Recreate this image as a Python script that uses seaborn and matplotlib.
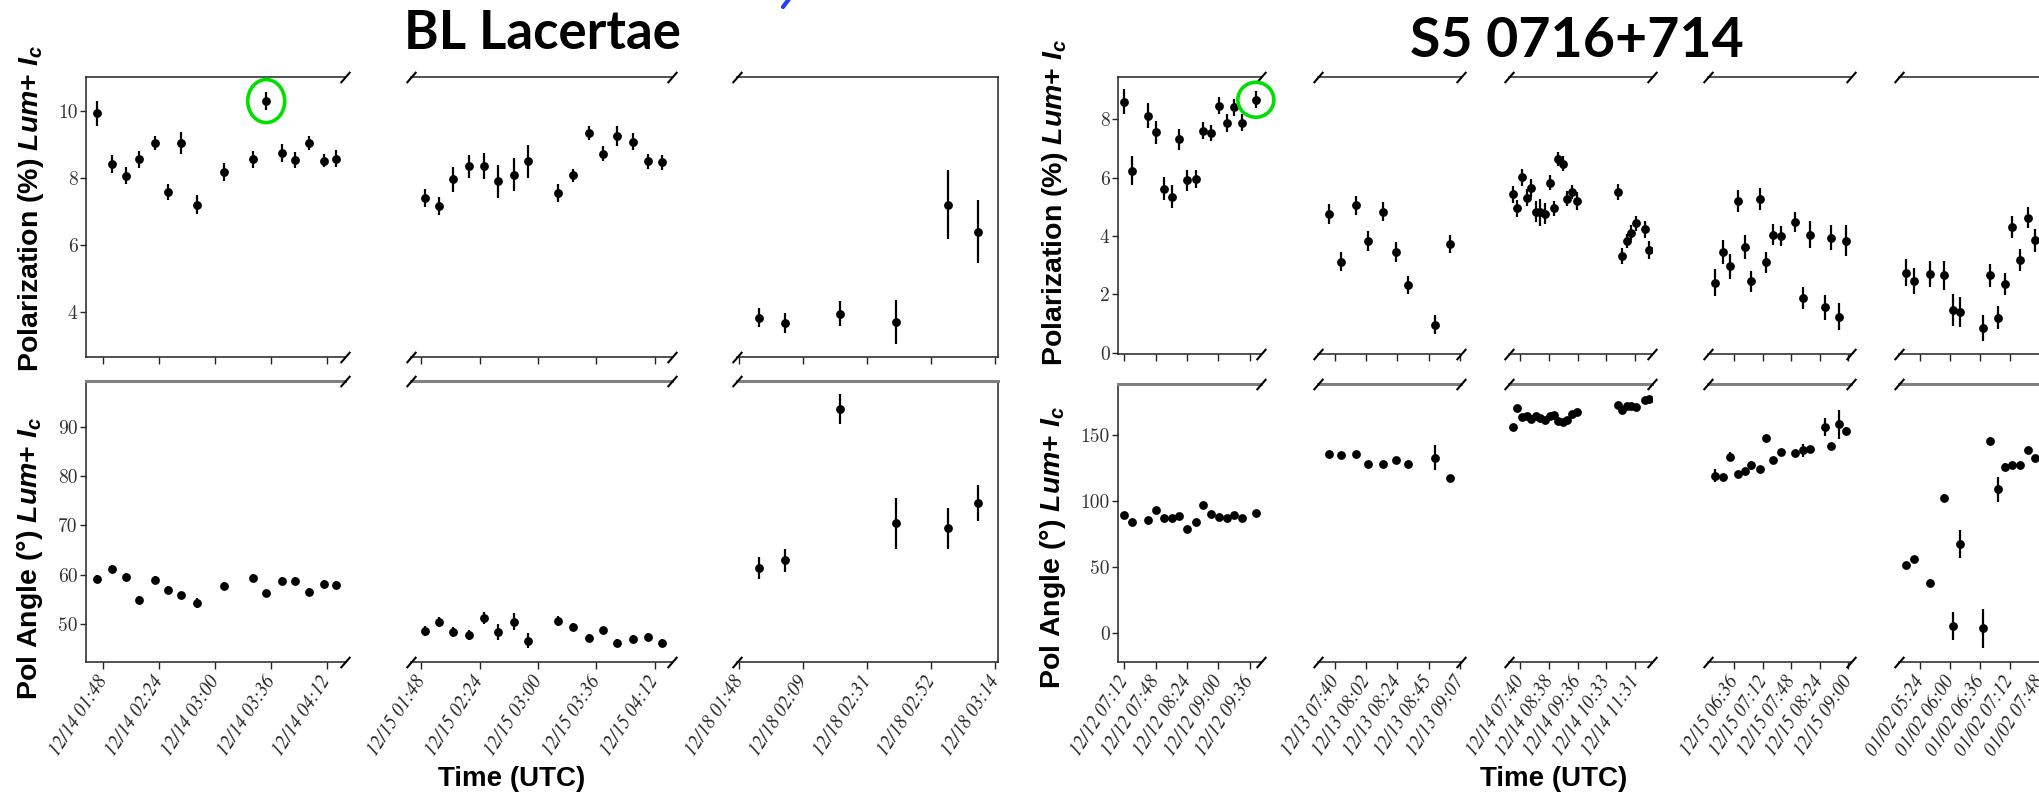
import numpy as np
import pandas as pd
import matplotlib
matplotlib.use("Agg")
import matplotlib.pyplot as plt
import matplotlib.dates as mdates
from matplotlib.font_manager import FontProperties
from matplotlib.patches import Ellipse
from matplotlib.transforms import ScaledTranslation
from matplotlib.lines import Line2D
import seaborn as sns

sns.set_theme(style="ticks")
plt.rcParams["font.family"] = ["Liberation Sans", "DejaVu Sans"]
plt.rcParams["mathtext.fontset"] = "custom"
plt.rcParams["mathtext.rm"] = "Liberation Sans:bold"
plt.rcParams["mathtext.it"] = "Liberation Sans:italic:bold"
plt.rcParams["mathtext.bf"] = "Liberation Sans:italic:bold"

# ------------------------------------------------------------------ data
# ---- BL Lacertae
bl_p1_date = "2019-12-14"
bl_p1_time = ["01:43:42", "01:53:48", "02:02:24", "02:11:12", "02:21:12", "02:29:42", "02:38:18", "02:48:30",
              "03:05:42", "03:24:24", "03:33:00", "03:43:06", "03:51:42", "04:00:18", "04:10:30", "04:17:42"]
bl_p1_pol = [9.93, 8.43, 8.07, 8.56, 9.05, 7.58, 9.05, 7.20, 8.17, 8.56, 10.30, 8.75, 8.54, 9.05, 8.52, 8.58]
bl_p1_pol_err = [0.37, 0.27, 0.25, 0.25, 0.22, 0.25, 0.32, 0.28, 0.27, 0.25, 0.28, 0.27, 0.25, 0.20, 0.20, 0.25]
bl_p1_ang = [59.1, 61.1, 59.5, 54.9, 59.0, 56.9, 55.8, 54.3, 57.8, 59.3, 56.2, 58.7, 58.7, 56.5, 58.2, 57.9]
bl_p1_ang_err = [0.8, 0.8, 0.8, 0.8, 0.8, 0.8, 0.8, 1.0, 0.8, 0.8, 0.8, 0.8, 0.8, 0.8, 0.8, 0.8]
bl_p1_ticks = ["01:48:00", "02:24:00", "03:00:00", "03:36:00", "04:12:00"]
bl_p1_xlim = ["01:36:48", "04:23:48"]

bl_p2_date = "2019-12-15"
bl_p2_time = ["01:50:24", "01:58:48", "02:07:36", "02:17:36", "02:26:24", "02:35:12", "02:45:18", "02:54:06",
              "03:12:30", "03:21:18", "03:31:42", "03:40:06", "03:48:54", "03:58:48", "04:07:42", "04:16:30"]
bl_p2_pol = [7.40, 7.16, 7.96, 8.35, 8.36, 7.90, 8.10, 8.50, 7.55, 8.08, 9.35, 8.73, 9.25, 9.09, 8.50, 8.47]
bl_p2_pol_err = [0.27, 0.27, 0.37, 0.35, 0.40, 0.50, 0.50, 0.50, 0.26, 0.20, 0.22, 0.22, 0.30, 0.25, 0.23, 0.22]
bl_p2_ang = [48.6, 50.5, 48.3, 47.8, 51.2, 48.4, 50.5, 46.6, 50.7, 49.5, 47.2, 48.8, 46.2, 46.9, 47.3, 46.2]
bl_p2_ang_err = [1.0, 1.0, 1.0, 1.0, 1.2, 1.6, 1.8, 1.5, 1.0, 0.8, 0.8, 0.7, 0.8, 0.8, 0.8, 0.8]
bl_p2_ticks = ["01:48:00", "02:24:00", "03:00:00", "03:36:00", "04:12:00"]
bl_p2_xlim = ["01:41:42", "04:22:36"]

bl_p3_date = "2019-12-18"
bl_p3_time = ["01:54:36", "02:03:24", "02:22:06", "02:41:00", "02:58:24", "03:08:30"]
bl_p3_pol = [3.83, 3.67, 3.95, 3.69, 7.20, 6.40]
bl_p3_pol_err = [0.29, 0.29, 0.38, 0.66, 1.03, 0.95]
bl_p3_ang = [61.3, 62.9, 93.6, 70.4, 69.4, 74.6]
bl_p3_ang_err = [2.2, 2.3, 3.1, 5.1, 4.2, 3.7]
bl_p3_ticks = ["01:48:00", "02:09:36", "02:31:12", "02:52:48", "03:14:24"]
bl_p3_xlim = ["01:47:12", "03:15:18"]

# ---- S5 0716+714
s5_p1_date = "2019-12-12"
s5_p1_time = ["07:12:00", "07:21:00", "07:39:42", "07:48:18", "07:58:00", "08:06:42", "08:15:12", "08:24:00",
              "08:34:12", "08:42:24", "08:51:24", "09:01:12", "09:09:42", "09:18:18", "09:26:54", "09:43:00"]
s5_p1_pol = [8.60, 6.24, 8.13, 7.55, 5.63, 5.35, 7.31, 5.91, 5.95, 7.61, 7.53, 8.47, 7.88, 8.41, 7.89, 8.67]
s5_p1_pol_err = [0.43, 0.49, 0.43, 0.39, 0.41, 0.39, 0.37, 0.35, 0.31, 0.30, 0.28, 0.29, 0.30, 0.30, 0.29, 0.29]
s5_p1_ang = [89.7, 83.8, 85.3, 93.2, 87.1, 87.1, 88.5, 78.8, 84.4, 97.1, 90.0, 88.2, 86.8, 89.1, 87.1, 90.9]
s5_p1_ang_err = [1.5] * 16
s5_p1_ticks = ["07:12:00", "07:48:00", "08:24:00", "09:00:00", "09:36:00"]
s5_p1_xlim = ["07:05:00", "09:48:54"]

s5_p2_date = "2019-12-13"
s5_p2_time = ["07:36:24", "07:45:00", "07:55:18", "08:03:42", "08:13:54", "08:22:48", "08:31:24", "08:50:06", "09:00:24"]
s5_p2_pol = [4.75, 3.12, 5.05, 3.83, 4.84, 3.45, 2.32, 0.97, 3.72]
s5_p2_pol_err = [0.35, 0.33, 0.33, 0.35, 0.33, 0.33, 0.32, 0.33, 0.31]
s5_p2_ang = [135.3, 134.7, 135.6, 128.2, 127.9, 130.9, 127.9, 132.6, 117.4]
s5_p2_ang_err = [1.5, 1.5, 1.5, 1.5, 1.5, 1.5, 2.5, 9.6, 1.5]
s5_p2_ticks = ["07:40:48", "08:02:24", "08:24:00", "08:45:36", "09:07:12"]
s5_p2_xlim = ["07:29:06", "09:07:54"]

s5_p3_date = "2019-12-14"
s5_p3_time = ["07:26:30", "07:35:18", "07:44:54", "07:53:48", "08:02:36", "08:11:30", "08:21:00", "08:30:36",
              "08:40:06", "08:49:00", "08:56:30", "09:07:24", "09:15:36", "09:24:24", "09:34:00", "10:56:24",
              "11:06:00", "11:14:48", "11:23:42", "11:32:36", "11:51:42", "11:59:48"]
s5_p3_pol = [5.43, 4.95, 6.01, 5.32, 5.64, 4.84, 4.81, 4.77, 5.83, 4.95, 6.64, 6.48, 5.28, 5.51, 5.20,
             5.52, 3.33, 3.83, 4.12, 4.44, 4.23, 3.52]
s5_p3_pol_err = [0.30, 0.30, 0.30, 0.30, 0.30, 0.35, 0.45, 0.35, 0.25, 0.25, 0.25, 0.25, 0.25, 0.25, 0.30,
                 0.27, 0.27, 0.25, 0.25, 0.25, 0.30, 0.30]
s5_p3_ang = [156.2, 170.3, 163.2, 164.4, 162.1, 164.4, 162.6, 161.2, 164.4, 164.7, 160.3, 159.7, 161.2, 165.6,
             167.1, 172.4, 168.5, 171.5, 171.5, 170.9, 176.5, 176.8]
s5_p3_ang_err = [1.5] * 22
s5_p3_ticks = ["07:40:48", "08:38:24", "09:36:00", "10:33:36", "11:31:12"]
s5_p3_xlim = ["07:18:18", "12:05:18"]

s5_p4_date = "2019-12-15"
s5_p4_time = ["06:11:12", "06:21:30", "06:30:24", "06:40:42", "06:49:12", "06:57:24", "07:08:00", "07:16:36",
              "07:25:06", "07:35:24", "07:52:30", "08:02:48", "08:11:18", "08:30:06", "08:38:36", "08:48:30", "08:57:00"]
s5_p4_pol = [2.40, 3.45, 2.97, 5.21, 3.63, 2.45, 5.27, 3.11, 4.05, 4.00, 4.48, 1.88, 4.04, 1.56, 3.95, 1.24, 3.84]
s5_p4_pol_err = [0.47, 0.41, 0.43, 0.38, 0.40, 0.37, 0.39, 0.36, 0.36, 0.35, 0.35, 0.39, 0.46, 0.42, 0.43, 0.47, 0.53]
s5_p4_ang = [119.1, 118.2, 133.5, 120.6, 122.6, 126.8, 124.4, 147.9, 130.6, 136.8, 135.9, 138.2, 139.4,
             155.9, 141.8, 157.9, 152.9]
s5_p4_ang_err = [5.0, 1.5, 3.5, 1.5, 1.5, 3.5, 1.5, 2.0, 1.5, 1.5, 1.5, 5.0, 1.5, 7.0, 1.5, 11.0, 3.0]
s5_p4_ticks = ["06:36:00", "07:12:00", "07:48:00", "08:24:00", "09:00:00"]
s5_p4_xlim = ["06:02:42", "09:03:24"]

s5_p5_date = "2020-01-02"
s5_p5_time = ["05:06:36", "05:16:42", "05:35:18", "05:53:06", "06:03:12", "06:11:42", "06:39:12", "06:48:00",
              "06:57:42", "07:06:12", "07:15:06", "07:24:00", "07:33:42", "07:42:12"]
s5_p5_pol = [2.75, 2.45, 2.69, 2.65, 1.47, 1.40, 0.84, 2.65, 1.21, 2.35, 4.31, 3.19, 4.63, 3.85]
s5_p5_pol_err = [0.47, 0.44, 0.45, 0.49, 0.54, 0.52, 0.44, 0.40, 0.38, 0.37, 0.39, 0.37, 0.37, 0.40]
s5_p5_ang = [51.5, 56.2, 38.2, 102.4, 5.3, 67.1, 3.8, 145.0, 108.8, 125.3, 126.8, 127.4, 138.2, 132.4]
s5_p5_ang_err = [2.5, 2.5, 2.5, 2.5, 10.6, 10.6, 14.7, 3.0, 9.6, 3.0, 2.0, 2.0, 1.5, 1.5]
s5_p5_ticks = ["05:24:00", "06:00:00", "06:36:00", "07:12:00", "07:48:00"]
s5_p5_xlim = ["04:58:06", "07:51:00"]

titles = ["BL Lacertae", "S5 0716+714"]
pol_label = r"Polarization (%) $Lum{+}\ I_c$"
ang_label = r"Pol Angle (°) $Lum{+}\ I_c$"
x_label = "Time (UTC)"
bl_pol_yticks = [4, 6, 8, 10]
bl_ang_yticks = [50, 60, 70, 80, 90]
s5_pol_yticks = [0, 2, 4, 6, 8]
s5_ang_yticks = [0, 50, 100, 150]
highlight_bl = 10   # index in bl_p1 (circled)
highlight_s5 = 15   # index in s5_p1 (circled)

# ------------------------------------------------------------------ layout
W, H = 2039, 796
fig = plt.figure(figsize=(W / 100, H / 100), dpi=100)


def rect(x0, x1, ytop, ybot):
    return [x0 / W, 1 - ybot / H, (x1 - x0) / W, (ybot - ytop) / H]


def num(date, t):
    return mdates.date2num(pd.to_datetime(f"{date} {t}"))


def panel(date, times, pol, pol_err, ang, ang_err, ticks, xlim):
    return dict(date=date, x=[num(date, t) for t in times], pol=pol, pol_err=pol_err,
                ang=ang, ang_err=ang_err, ticks=[num(date, t) for t in ticks],
                xlim=[num(date, t) for t in xlim])


groups = [
    dict(panels=[panel(bl_p1_date, bl_p1_time, bl_p1_pol, bl_p1_pol_err, bl_p1_ang, bl_p1_ang_err, bl_p1_ticks, bl_p1_xlim),
                 panel(bl_p2_date, bl_p2_time, bl_p2_pol, bl_p2_pol_err, bl_p2_ang, bl_p2_ang_err, bl_p2_ticks, bl_p2_xlim),
                 panel(bl_p3_date, bl_p3_time, bl_p3_pol, bl_p3_pol_err, bl_p3_ang, bl_p3_ang_err, bl_p3_ticks, bl_p3_xlim)],
         cols=[(86, 345), (411, 672), (737, 998)],
         rows=[(77, 357), (381, 662)],
         ylims=[(2.65, 11.02), (42.3, 99.3)],
         yticks=[bl_pol_yticks, bl_ang_yticks],
         title=titles[0], title_xy=(542, 49), title_size=38,
         ylab_xy=[(31, 208), (30, 558)], xlab_xy=(512, 779),
         highlight=highlight_bl, hl_size=(37, 43)),
    dict(panels=[panel(s5_p1_date, s5_p1_time, s5_p1_pol, s5_p1_pol_err, s5_p1_ang, s5_p1_ang_err, s5_p1_ticks, s5_p1_xlim),
                 panel(s5_p2_date, s5_p2_time, s5_p2_pol, s5_p2_pol_err, s5_p2_ang, s5_p2_ang_err, s5_p2_ticks, s5_p2_xlim),
                 panel(s5_p3_date, s5_p3_time, s5_p3_pol, s5_p3_pol_err, s5_p3_ang, s5_p3_ang_err, s5_p3_ticks, s5_p3_xlim),
                 panel(s5_p4_date, s5_p4_time, s5_p4_pol, s5_p4_pol_err, s5_p4_ang, s5_p4_ang_err, s5_p4_ticks, s5_p4_xlim),
                 panel(s5_p5_date, s5_p5_time, s5_p5_pol, s5_p5_pol_err, s5_p5_ang, s5_p5_ang_err, s5_p5_ticks, s5_p5_xlim)],
         cols=[(1118, 1261), (1318, 1461), (1509, 1652), (1708, 1851), (1899, 2042)],
         rows=[(77, 354), (384, 662)],
         ylims=[(-0.04, 9.45), (-21.8, 188.4)],
         yticks=[s5_pol_yticks, s5_ang_yticks],
         title=titles[1], title_xy=(1577, 57), title_size=40,
         ylab_xy=[(1055, 202), (1053, 547)], xlab_xy=(1554, 779),
         highlight=highlight_s5, hl_size=(36, 35)),
]

xtick_fp = FontProperties(family="STIXGeneral", style="italic", size=13.5)
ytick_fp = FontProperties(family="cmr10", size=14)
slash = [(-1, -1.15), (1, 1.15)]

for g in groups:
    n = len(g["panels"])
    for i, p in enumerate(g["panels"]):
        for r, (key, ekey) in enumerate([("pol", "pol_err"), ("ang", "ang_err")]):
            ytop, ybot = g["rows"][r]
            x0, x1 = g["cols"][i]
            ax = fig.add_axes(rect(x0, x1, ytop, ybot))
            ax.set_facecolor("white")
            ax.errorbar(p["x"], p[key], yerr=p[ekey], fmt="none", ecolor="black",
                        elinewidth=1.6, capsize=0, zorder=2)
            sns.scatterplot(x=p["x"], y=p[key], ax=ax, color="black", s=40,
                            linewidth=0, zorder=3, legend=False)
            ax.set_xlim(p["xlim"])
            ax.set_ylim(g["ylims"][r])
            ax.set_xticks(p["ticks"])
            if r == 1:
                ax.set_xticklabels([mdates.num2date(t).strftime("%m/%d %H:%M") for t in p["ticks"]],
                                   fontproperties=xtick_fp, rotation=57, ha="right",
                                   va="center", rotation_mode="anchor", color="#222222")
            else:
                ax.set_xticklabels([])
            ax.tick_params(axis="x", direction="out", length=5, width=1, color="#222222", pad=6)
            if i == 0:
                ax.set_yticks(g["yticks"][r])
                ax.set_yticklabels([str(v) for v in g["yticks"][r]], fontproperties=ytick_fp,
                                   color="#333333")
                ax.tick_params(axis="y", direction="out", length=4, width=1, color="#222222", pad=2)
            else:
                ax.set_yticks([])
            ax.set_xlabel("")
            ax.set_ylabel("")
            for s in ["top", "bottom", "left", "right"]:
                ax.spines[s].set_color("#222222")
                ax.spines[s].set_linewidth(1.1)
            if r == 1:
                ax.spines["top"].set_color("#808080")
                ax.spines["top"].set_linewidth(2.2)
            ax.spines["left"].set_visible(i == 0)
            ax.spines["right"].set_visible(i == n - 1)
            marks = []
            if i > 0:
                marks += [(0, 0), (0, 1)]
            if i < n - 1:
                marks += [(1, 0), (1, 1)]
            for (mx, my) in marks:
                ax.plot([mx], [my], transform=ax.transAxes, marker=slash, markersize=8,
                        color="black", mew=1.5, linestyle="none", clip_on=False, zorder=5)
            # highlighted observation (green circle)
            if i == 0 and r == 0:
                k = g["highlight"]
                w_in, h_in = g["hl_size"][0] / 100, g["hl_size"][1] / 100
                tr = fig.dpi_scale_trans + ScaledTranslation(p["x"][k], p["pol"][k], ax.transData)
                ax.add_patch(Ellipse((0, 0), w_in, h_in, transform=tr, fill=False,
                                     edgecolor="#00e000", linewidth=2.6, clip_on=False, zorder=6))

    # group labels
    tx, ty = g["title_xy"]
    fig.text(tx / W, 1 - ty / H, g["title"], ha="center", va="baseline",
             fontsize=g["title_size"], fontfamily="Lato", fontweight="bold", color="black")
    for lab, (lx, ly) in zip([pol_label, ang_label], g["ylab_xy"]):
        fig.text(lx / W, 1 - ly / H, lab, rotation=90, ha="center", va="center",
                 fontsize=20.5, fontweight="bold", fontfamily="Liberation Sans", color="black")
    xx, xy = g["xlab_xy"]
    fig.text(xx / W, 1 - xy / H, x_label, ha="center", va="center", fontsize=20,
             fontweight="bold", fontfamily="Liberation Sans", color="black")

# small blue stroke cut at the top edge
fig.add_artist(Line2D([783 / W, 789 / W], [1 - 7 / H, 1 + 1 / H], transform=fig.transFigure,
                      color="#1f3dff", linewidth=3, solid_capstyle="round"))

fig.savefig("out.png", dpi=100, facecolor="white")
